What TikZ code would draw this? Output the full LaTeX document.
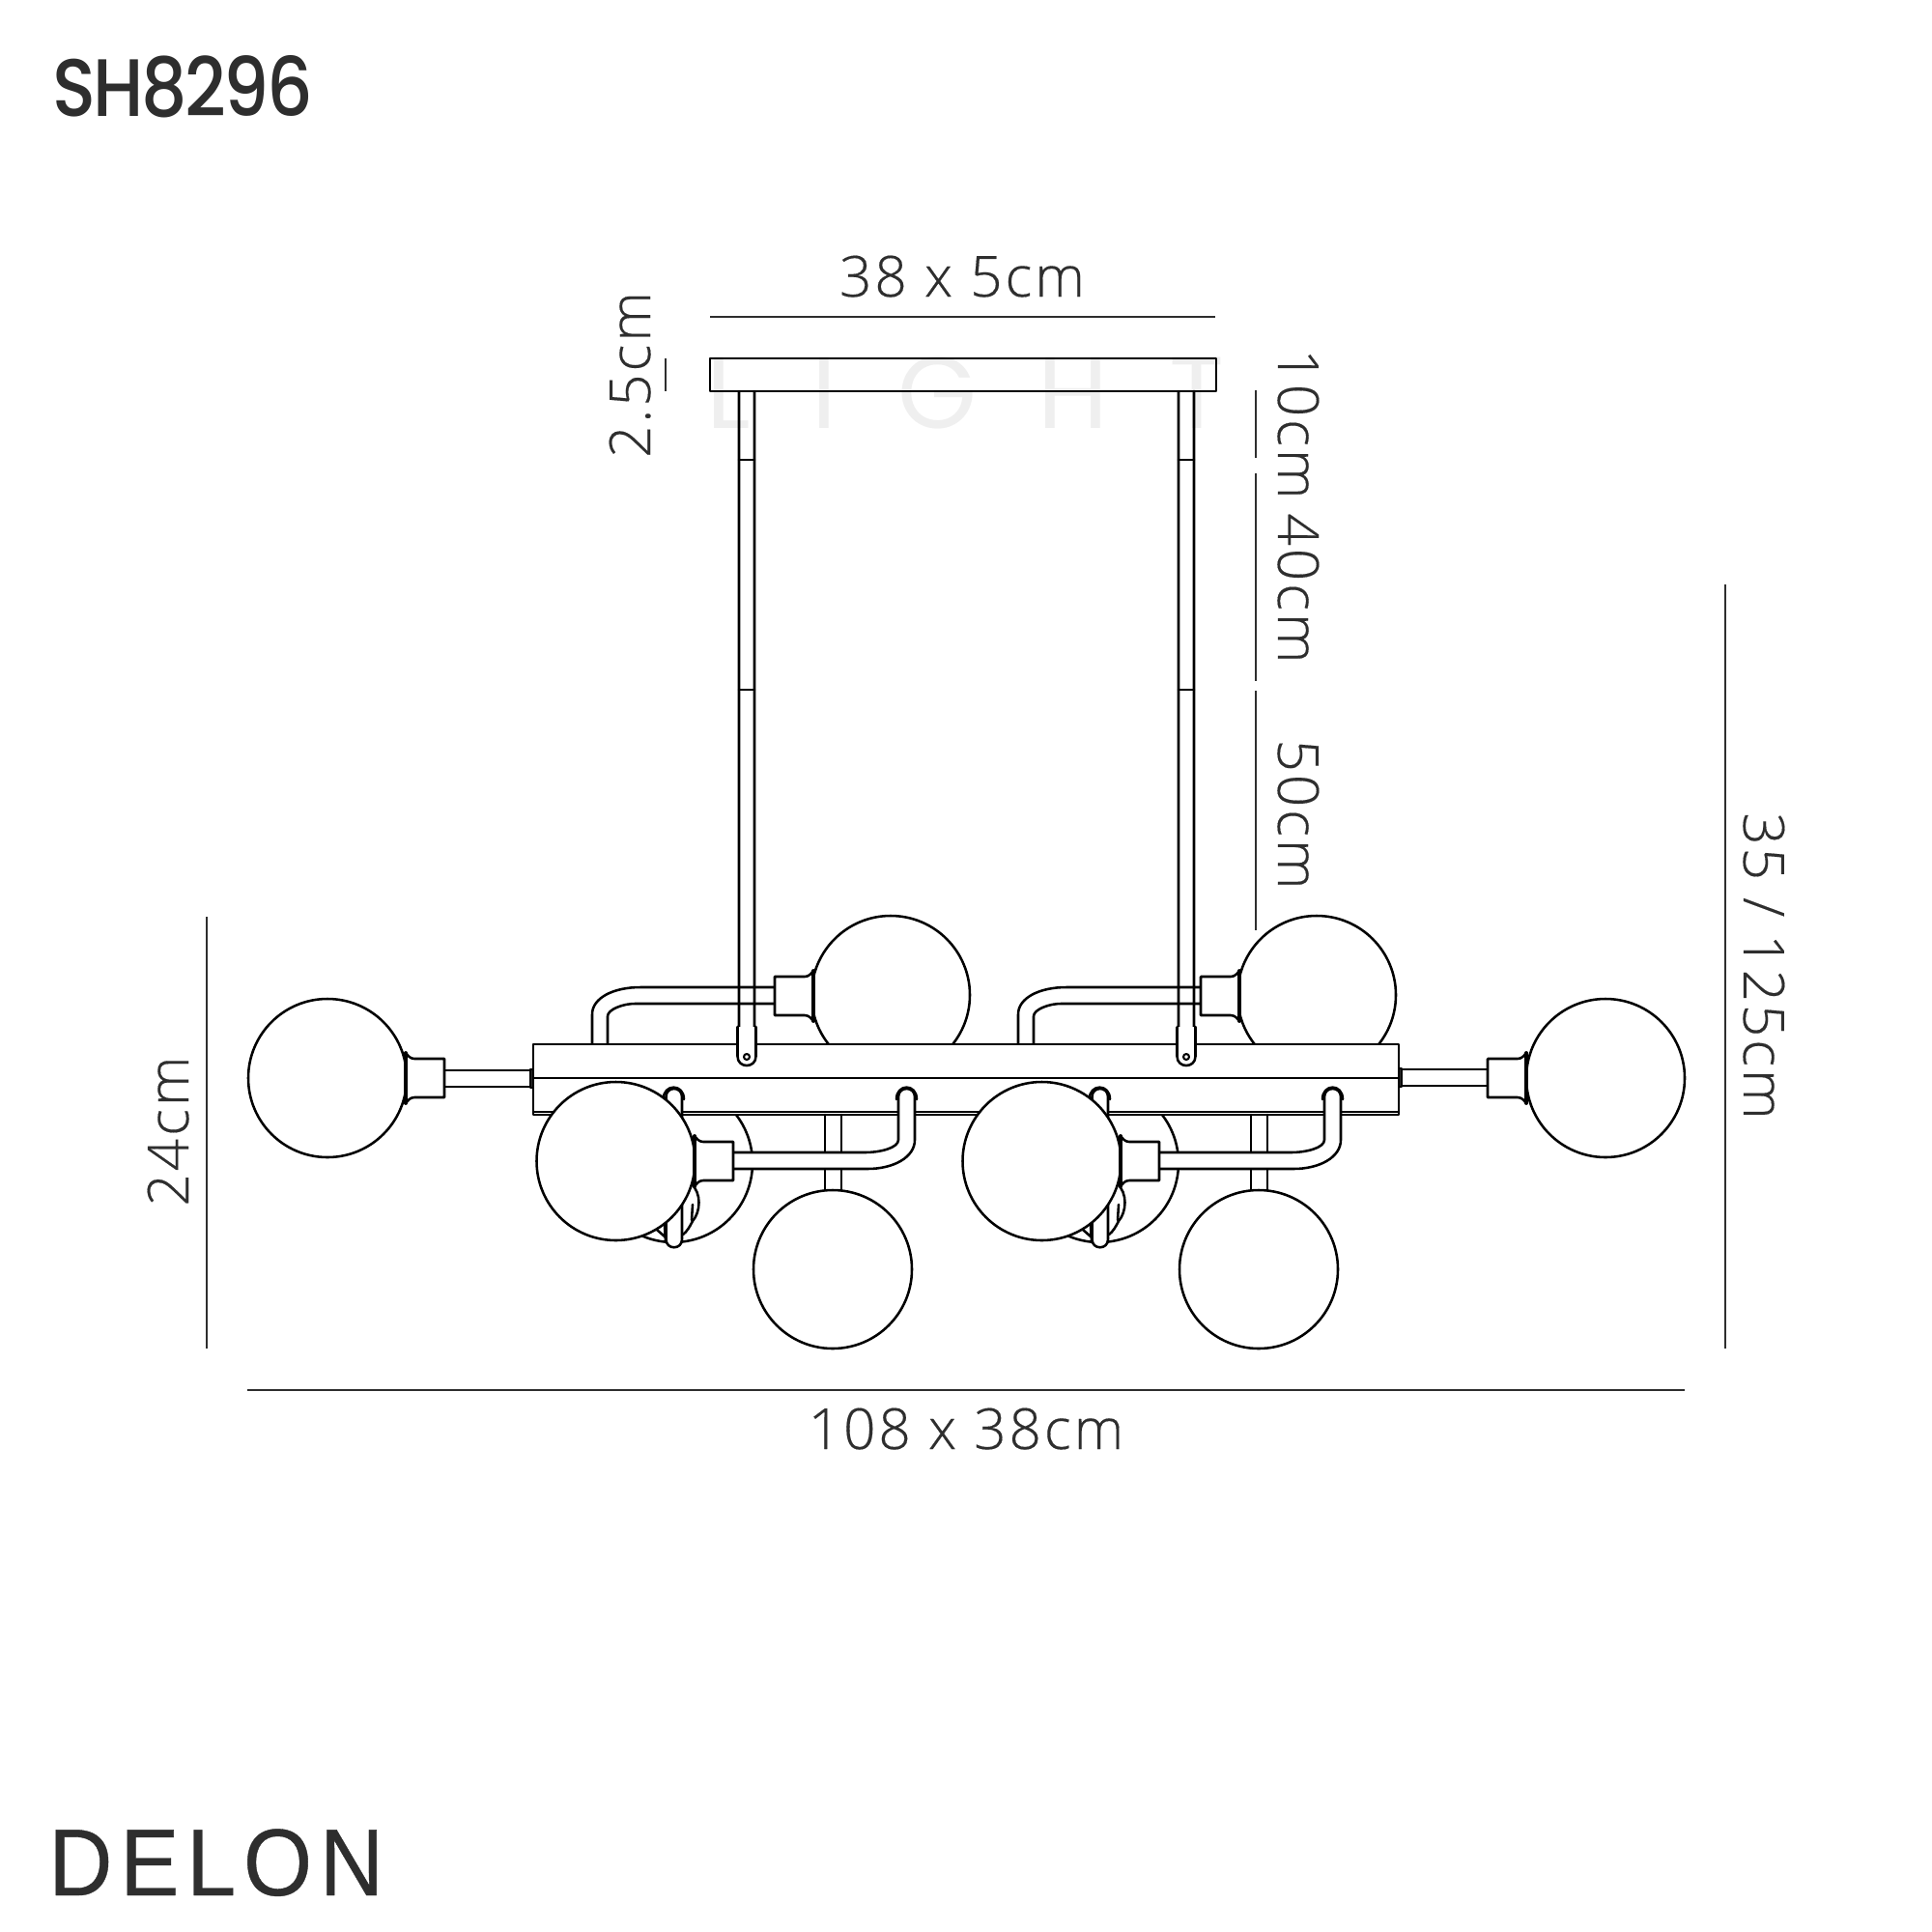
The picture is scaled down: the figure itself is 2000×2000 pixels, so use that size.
\documentclass[tikz,border=0pt]{standalone}
\usepackage{fontspec}
\setmainfont{Open Sans}
\newfontfamily\dimfont[LetterSpace=5,FakeBold=0.25]{Open Sans Light}
\newfontfamily\codefont[FakeStretch=0.88,LetterSpace=-3]{Poppins Medium}
\newfontfamily\namefont[LetterSpace=8,FakeStretch=0.93,FakeBold=0.4]{Liberation Sans}
\newfontfamily\markfont[LetterSpace=60]{Poppins}
\definecolor{ink}{HTML}{2E2E2E}
\definecolor{wm}{HTML}{EFEFEF}
\tikzset{
  part/.style={draw=black,line width=1.45pt,line join=round,line cap=round},
  partfill/.style={part,fill=white},
  dimline/.style={draw=ink,line width=1.3pt},
  dimlabel/.style={inner sep=0pt,text=ink,font=\dimfont\fontsize{33.3}{40}\selectfont,anchor=base},
  collarshape/.pic={
    \draw[partfill] (0,-26) -- (0,26);
    \draw[partfill] (40,-20) -- (9,-20) .. controls (4,-20) and (2,-24) .. (0,-26) -- (0,26) .. controls (2,24) and (4,20) .. (9,20) -- (40,20) -- cycle;
    \draw[part,line width=2.2pt] (0,-26) -- (0,26);
  }
}
\begin{document}
\begin{tikzpicture}[x=0.2mm,y=-0.2mm]
\useasboundingbox (0,0) rectangle (2000,2000);
\fill[white] (0,0) rectangle (2000,2000);
% watermark
\node[inner sep=0pt,anchor=base west,text=wm,font=\markfont\fontsize{60}{70}\selectfont] (mark) at (731,443) {LIGHT};
% canopy
\draw[part] (735,371) rectangle (1259,405);
% rods
\foreach \r in {0,455}{
  \begin{scope}[shift={(\r,0)}]
    \draw[part] (765,405) -- (765,1065) .. controls (768,1069) and (778,1069) .. (781,1065) -- (781,405);
    \draw[part] (765,476) -- (781,476) (765,714) -- (781,714);
  \end{scope}
}
% upper arms and globes
\foreach \d in {0,441}{
  \begin{scope}[shift={(\d,0)}]
    \draw[part] (801,1022) -- (663,1022) .. controls (635,1022) and (613,1033) .. (613,1050) -- (613,1081);
    \draw[part] (801,1039) -- (657,1039) .. controls (645,1039) and (629,1045) .. (629,1052) -- (629,1081);
    \draw[partfill] (922,1030) circle[radius=82];
    \pic[xscale=-1] at (842,1031) {collarshape};
    \draw[partfill] (697,1204) circle[radius=82];
  \end{scope}
}
% body
\draw[partfill] (552,1081) rectangle (1448,1154);
\draw[part] (552,1116) -- (1448,1116);
\draw[part] (552,1151) -- (1448,1151);
% rod clips
\foreach \r in {0,455}{
  \begin{scope}[shift={(\r,0)}]
    \draw[partfill] (763.5,1063) -- (763.5,1093.5) .. controls (763.5,1106.2) and (782.5,1106.2) .. (782.5,1093.5) -- (782.5,1063);
    \draw[part,line width=1.2pt] (773,1094) circle[radius=3];
  \end{scope}
}
% side arms
\draw[part] (460,1108) -- (550,1108) (460,1125) -- (550,1125);
\draw[part,fill=ink,line width=0.8pt] (549,1107) rectangle (552,1126);
\draw[part] (1540,1107) -- (1451,1107) (1540,1124) -- (1451,1124);
\draw[part,fill=ink,line width=0.8pt] (1448,1106) rectangle (1451,1125);
\draw[partfill] (339,1116) circle[radius=82];
\pic at (420,1116) {collarshape};
\draw[partfill] (1662,1116) circle[radius=82];
\pic[xscale=-1] at (1580,1116) {collarshape};
% lower assemblies
\foreach \d in {0,441}{
  \begin{scope}[shift={(\d,0)}]
    % stem and lower globe
    \draw[part] (854,1154) -- (854,1232) (871,1154) -- (871,1232);
    \draw[partfill] (862,1314) circle[radius=82];
    % curled arm behind front globe
    \draw[part] (715,1225) .. controls (727,1235) and (725,1255) .. (717,1264) .. controls (714,1270) and (711,1275) .. (707,1278);
    \draw[part] (717,1247) -- (716,1263);
    \draw[part] (680,1273) -- (688,1280) (688,1268) -- (689,1286);
    % ring and tube behind front globe
    \draw[partfill] (686.7,1138) .. controls (686.7,1121.5) and (708,1121.5) .. (708,1138);
    \draw[partfill] (689.5,1135.5) .. controls (689.5,1124.2) and (706,1124.2) .. (706,1135.5) -- (706,1283) .. controls (706,1294) and (689.5,1294) .. (689.5,1283) -- cycle;
    % front globe
    \draw[partfill] (637.5,1202) circle[radius=82];
    % front arm
    \draw[partfill] (928,1138) .. controls (928,1121.5) and (949,1121.5) .. (949,1138);
    \fill[white] (758,1193) -- (895,1193) .. controls (912,1193) and (930,1188) .. (930,1180) -- (930,1135.5) .. controls (930,1124.2) and (947,1124.2) .. (947,1135.5) -- (947,1180) .. controls (947,1198) and (925,1210) .. (898,1210) -- (758,1210) -- cycle;
    \draw[part] (758,1193) -- (895,1193) .. controls (912,1193) and (930,1188) .. (930,1180) -- (930,1135.5) .. controls (930,1124.2) and (947,1124.2) .. (947,1135.5) -- (947,1180) .. controls (947,1198) and (925,1210) .. (898,1210) -- (758,1210);
    \pic at (719,1202) {collarshape};
  \end{scope}
}
% dimension lines
\draw[dimline] (735,328) -- (1258,328);
\draw[dimline] (689,371) -- (689,405);
\draw[dimline] (1300,404) -- (1300,474);
\draw[dimline] (1300,490) -- (1300,705);
\draw[dimline] (1300,715) -- (1300,963);
\draw[dimline] (1786,605) -- (1786,1396);
\draw[dimline] (214,949) -- (214,1396);
\draw[dimline] (256,1439) -- (1744,1439);
% labels
\node[inner sep=0pt,anchor=base west,text=ink,font=\codefont\fontsize{48}{56}\selectfont] (code) at (54,120) {SH8296};
\node[inner sep=0pt,anchor=base west,text=ink,font=\namefont\fontsize{56}{64}\selectfont] (name) at (50,1962) {DELON};
\node[dimlabel] (d38) at (996,307) {38 x 5cm};
\node[dimlabel] (d108) at (1000,1500) {108 x 38cm};
\node[dimlabel,rotate=90] (d25) at (673,388) {2.5cm};
\node[dimlabel,rotate=-90] (d10) at (1323,439) {10cm};
\node[dimlabel,rotate=-90] (d40) at (1323,609) {40cm};
\node[dimlabel,rotate=-90] (d50) at (1323,843) {50cm};
\node[dimlabel,rotate=-90] (d35) at (1805,1000) {35 / 125cm};
\node[dimlabel,rotate=90] (d24) at (195,1171) {24cm};
\end{tikzpicture}
\end{document}
